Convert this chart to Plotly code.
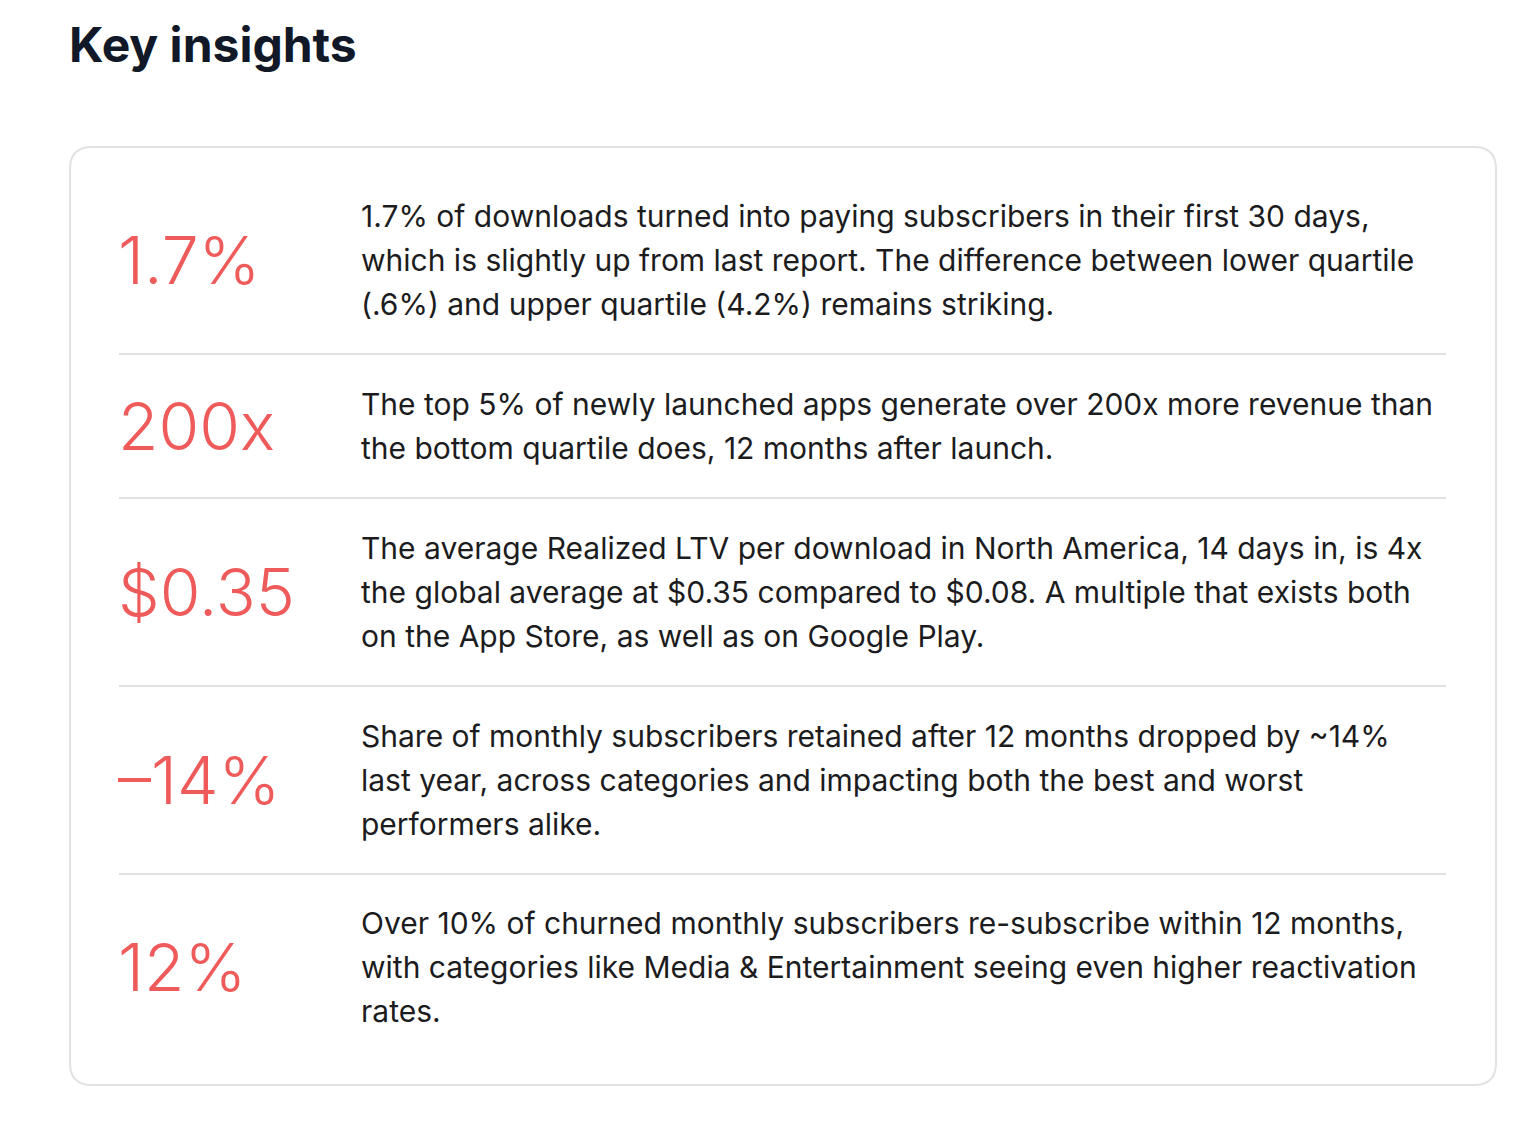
import plotly.graph_objects as go

# data
title = "Key insights"
stats = ["1.7%", "200x", "$0.35", "\u201314%", "12%"]
texts = [
    ["1.7% of downloads turned into paying subscribers in their first 30 days,",
     "which is slightly up from last report. The difference between lower quartile",
     "(.6%) and upper quartile (4.2%) remains striking."],
    ["The top 5% of newly launched apps generate over 200x more revenue than",
     "the bottom quartile does, 12 months after launch."],
    ["The average Realized LTV per download in North America, 14 days in, is 4x",
     "the global average at $0.35 compared to $0.08. A multiple that exists both",
     "on the App Store, as well as on Google Play."],
    ["Share of monthly subscribers retained after 12 months dropped by ~14%",
     "last year, across categories and impacting both the best and worst",
     "performers alike."],
    ["Over 10% of churned monthly subscribers re-subscribe within 12 months,",
     "with categories like Media & Entertainment seeing even higher reactivation",
     "rates."],
]

W, H = 1538, 1132
off = 8  # page body margin
card = dict(x0=70, x1=1496, y0=147, y1=1085, r=22)
row_edges = [147, 354, 498, 686, 874, 1085]
line_h = 44
red = "#ef5a5a"
ink = "#1c1c1e"

fig = go.Figure()

x0, x1, y0, y1, r = card["x0"], card["x1"], card["y0"], card["y1"], card["r"]
path = (f"M {x0+r},{y0} L {x1-r},{y0} Q {x1},{y0} {x1},{y0+r} "
        f"L {x1},{y1-r} Q {x1},{y1} {x1-r},{y1} L {x0+r},{y1} "
        f"Q {x0},{y1} {x0},{y1-r} L {x0},{y0+r} Q {x0},{y0} {x0+r},{y0} Z")
fig.add_shape(type="path", path=path, line=dict(color="#e2e2e2", width=2),
              fillcolor="white", layer="below")

for yy in row_edges[1:-1]:
    fig.add_shape(type="line", x0=119, x1=1446, y0=yy, y1=yy,
                  line=dict(color="#e2e2e2", width=2))

centers = [260, 426, 592, 780, 967]
for stat, lines, cy in zip(stats, texts, centers):
    fig.add_annotation(x=116, y=cy, text=stat, showarrow=False,
                       xanchor="left", yanchor="middle",
                       font=dict(family="Inter", size=66, color=red, weight=300))
    n = len(lines)
    for i, ln in enumerate(lines):
        ly = cy + (i - (n - 1) / 2) * line_h
        fig.add_annotation(x=359, y=ly, text=ln, showarrow=False,
                           xanchor="left", yanchor="middle",
                           font=dict(family="Inter", size=30, color=ink))

fig.add_annotation(x=67, y=44, text=title, showarrow=False,
                   xanchor="left", yanchor="middle",
                   font=dict(family="Inter", size=48, color="#111827", weight=700))

fig.update_xaxes(range=[off, W + off], visible=False, fixedrange=True)
fig.update_yaxes(range=[H + off, off], visible=False, fixedrange=True)
fig.update_layout(width=W, height=H, margin=dict(l=0, r=0, t=0, b=0),
                  paper_bgcolor="white", plot_bgcolor="white", showlegend=False)

fig.write_html("out.html")
